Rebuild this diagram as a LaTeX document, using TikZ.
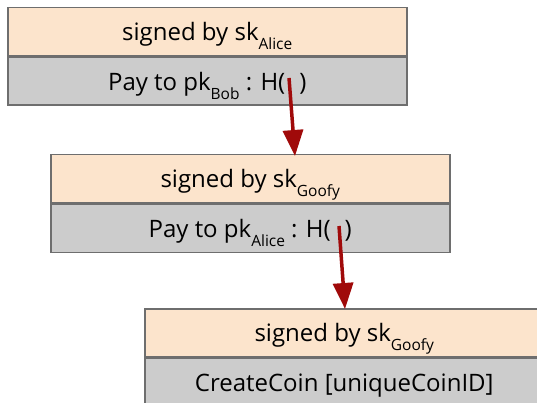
\documentclass[tikz,border=0pt]{standalone}
\usepackage{fontspec}
\setmainfont{Open Sans}
\usepackage{tikz}
\usetikzlibrary{arrows.meta, positioning}
\definecolor{pessegoTopo}{RGB}{252,228,204}
\definecolor{cinzaCaixa}{RGB}{204,204,204}
\definecolor{bordaCaixa}{RGB}{110,110,110}
\definecolor{vermelhoSeta}{RGB}{160,10,10}
\newcommand{\lowsub}[1]{\raisebox{-9pt}[0pt][0pt]{\fontsize{15.5}{15.5}\selectfont #1}}

\begin{document}
\begin{tikzpicture}[
    x=1pt, y=-1pt,
    every node/.style={font=\fontsize{24}{28}\selectfont},
    sigbox/.style={draw=bordaCaixa, line width=1.5pt, fill=pessegoTopo, minimum width=399pt, minimum height=48pt, inner sep=0pt, text height=18pt, text depth=0pt, anchor=north west},
    paybox/.style={draw=bordaCaixa, line width=1.5pt, fill=cinzaCaixa, minimum width=399pt, minimum height=48pt, inner sep=0pt, text height=18pt, text depth=0pt, anchor=north west},
    ptr/.style={-{Triangle[length=26pt, width=20pt]}, draw=vermelhoSeta, line width=3.5pt}
]
    \useasboundingbox (0,0) rectangle (537,403);
    \clip (0,0) rectangle (537,403);

    % Primeira transacao
    \node[sigbox] (sig1) at (7,7) {signed by sk\lowsub{Alice}};
    \node[paybox] (pay1) at (sig1.south west) {Pay to pk\lowsub{Bob} : H(\hspace{14pt})};

    % Segunda transacao
    \node[sigbox] (sig2) at (50,154) {signed by sk\lowsub{Goofy}};
    \node[paybox] (pay2) at (sig2.south west) {Pay to pk\lowsub{Alice} : H(\hspace{14pt})};

    % Criacao da moeda
    \node[sigbox] (sig3) at (144,308) {signed by sk\lowsub{Goofy}};
    \node[paybox] (pay3) at (sig3.south west) {CreateCoin [uniqueCoinID]};

    % Ponteiros de hash
    \coordinate (h1) at (289,78);
    \coordinate (h2) at (339,226);
    \draw[ptr] (h1) -- ([xshift=245pt, yshift=-2pt]sig2.north west);
    \draw[ptr] (h2) -- ([xshift=201pt, yshift=-1pt]sig3.north west);

\end{tikzpicture}
\end{document}
